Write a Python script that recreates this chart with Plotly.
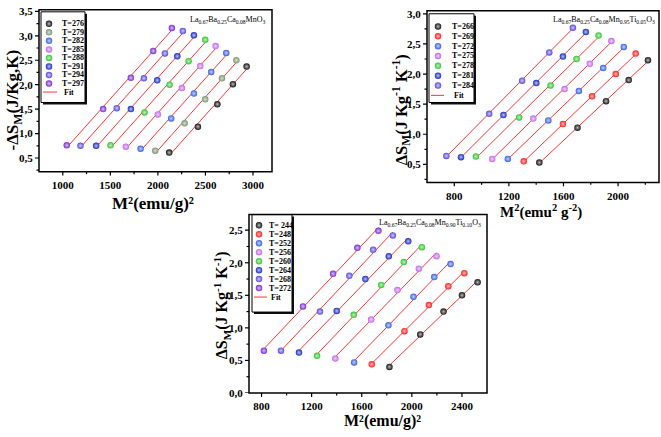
import numpy as np
import plotly.graph_objects as go

W, H = 661, 437

# ---------------- data ----------------
a_labels = ["T=276", "T=279", "T=282", "T=285", "T=288", "T=291", "T=294", "T=297"]
a_colors = ["#151515", "#7b9770", "#3a62e6", "#c36af0", "#33c833", "#1c2fc8", "#5a4ce0", "#7a2ed6"]
a_x = [
    [2119, 2421, 2625, 2789, 2933],
    [1972, 2281, 2498, 2674, 2825],
    [1818, 2140, 2379, 2561, 2719],
    [1663, 2000, 2253, 2446, 2607],
    [1502, 1860, 2123, 2323, 2498],
    [1351, 1716, 1993, 2204, 2379],
    [1186, 1568, 1853, 2074, 2263],
    [1042, 1424, 1716, 1951, 2147],
]
a_y = [
    [0.61, 1.14, 1.60, 2.01, 2.37],
    [0.65, 1.21, 1.70, 2.13, 2.50],
    [0.69, 1.31, 1.82, 2.26, 2.65],
    [0.73, 1.39, 1.93, 2.38, 2.79],
    [0.76, 1.43, 2.00, 2.48, 2.92],
    [0.75, 1.50, 2.09, 2.58, 3.01],
    [0.75, 1.52, 2.13, 2.64, 3.10],
    [0.76, 1.50, 2.14, 2.69, 3.16],
]

b_labels = ["T=266", "T=269", "T=272", "T=275", "T=278", "T=281", "T=284"]
b_colors = ["#151515", "#ff2020", "#3a62e6", "#c36af0", "#33c833", "#1c2fc8", "#5a4ce0"]
b_x = [
    [1423, 1703, 1912, 2078, 2219],
    [1309, 1596, 1810, 1983, 2129],
    [1192, 1489, 1713, 1891, 2042],
    [1078, 1379, 1608, 1793, 1951],
    [958, 1275, 1506, 1696, 1857],
    [849, 1160, 1401, 1596, 1764],
    [742, 1056, 1297, 1496, 1669],
]
b_y = [
    [0.53, 1.11, 1.55, 1.90, 2.23],
    [0.55, 1.17, 1.63, 2.00, 2.34],
    [0.59, 1.23, 1.72, 2.10, 2.45],
    [0.59, 1.26, 1.75, 2.17, 2.55],
    [0.63, 1.28, 1.81, 2.25, 2.64],
    [0.62, 1.32, 1.85, 2.29, 2.70],
    [0.64, 1.34, 1.89, 2.36, 2.77],
]

c_labels = ["T= 244", "T=248", "T=252", "T=256", "T=260", "T=264", "T=268", "T=272"]
c_colors = ["#151515", "#ff2020", "#3a62e6", "#c36af0", "#33c833", "#1c2fc8", "#5a4ce0", "#7a2ed6"]
c_x = [
    [1821, 2067, 2253, 2400, 2525],
    [1680, 1941, 2136, 2291, 2419],
    [1539, 1813, 2013, 2179, 2309],
    [1389, 1675, 1885, 2056, 2197],
    [1243, 1536, 1755, 1936, 2080],
    [1099, 1400, 1629, 1816, 1971],
    [955, 1267, 1501, 1691, 1848],
    [819, 1131, 1371, 1565, 1733],
]
c_y = [
    [0.40, 0.90, 1.25, 1.50, 1.70],
    [0.44, 0.95, 1.35, 1.64, 1.84],
    [0.47, 1.04, 1.48, 1.78, 1.98],
    [0.53, 1.13, 1.58, 1.91, 2.10],
    [0.57, 1.20, 1.66, 2.01, 2.24],
    [0.62, 1.26, 1.75, 2.10, 2.33],
    [0.65, 1.25, 1.80, 2.20, 2.42],
    [0.65, 1.33, 1.83, 2.23, 2.49],
]

a_xticks = [1000, 1500, 2000, 2500, 3000]
a_xticklabels = ["1000", "1500", "2000", "2500", "3000"]
a_xminor = [1250, 1750, 2250, 2750]
a_yticks = [0.5, 1.0, 1.5, 2.0, 2.5, 3.0, 3.5]
a_yticklabels = ["0,5", "1,0", "1,5", "2,0", "2,5", "3,0", "3,5"]
a_yminor = [0.25, 0.75, 1.25, 1.75, 2.25, 2.75, 3.25]
b_xticks = [800, 1200, 1600, 2000]
b_xticklabels = ["800", "1200", "1600", "2000"]
b_xminor = [1000, 1400, 1800, 2200]
b_yticks = [0.5, 1.0, 1.5, 2.0, 2.5, 3.0]
b_yticklabels = ["0,5", "1,0", "1,5", "2,0", "2,5", "3,0"]
b_yminor = [0.25, 0.75, 1.25, 1.75, 2.25, 2.75]
c_xticks = [800, 1200, 1600, 2000, 2400]
c_xticklabels = ["800", "1200", "1600", "2000", "2400"]
c_xminor = [1000, 1400, 1800, 2200]
c_yticks = [0.0, 0.5, 1.0, 1.5, 2.0, 2.5]
c_yticklabels = ["0,0", "0,5", "1,0", "1,5", "2,0", "2,5"]
c_yminor = [0.25, 0.75, 1.25, 1.75, 2.25]

FIT_COLOR = "#ff3535"
SERIF = "Liberation Serif"

# panel frames in pixels and their axis ranges
frames = {
    "a": dict(px=(39, 272, 5, 171), xr=[750, 3200], yr=[0.22, 3.53]),
    "b": dict(px=(427, 659, 6, 182), xr=[600, 2300], yr=[0.2, 3.05]),
    "c": dict(px=(249, 487, 215, 398), xr=[700, 2600], yr=[0.0, 2.74]),
}


def px(x):
    return x / W


def py(y):
    return 1 - y / H


def to_data(key, pxx, pyy):
    f = frames[key]
    L, R, T, B = f["px"]
    x0, x1 = f["xr"]
    y0, y1 = f["yr"]
    return x0 + (pxx - L) / (R - L) * (x1 - x0), y0 + (B - pyy) / (B - T) * (y1 - y0)


def lighten(hexc, f=0.6):
    h = hexc.lstrip("#")
    r, g, b = int(h[0:2], 16), int(h[2:4], 16), int(h[4:6], 16)
    r = int(r + (255 - r) * f)
    g = int(g + (255 - g) * f)
    b = int(b + (255 - b) * f)
    return "#%02x%02x%02x" % (r, g, b)


fig = go.Figure()

panels = [
    ("a", "x", "y", a_x, a_y, a_colors),
    ("b", "x2", "y2", b_x, b_y, b_colors),
    ("c", "x3", "y3", c_x, c_y, c_colors),
]
for key, xa, ya, xs, ys, cols in panels:
    for xv, yv, col in zip(xs, ys, cols):
        xv = np.array(xv, float)
        yv = np.array(yv, float)
        k, b0 = np.polyfit(xv, yv, 1)
        xf = np.array([xv.min(), xv.max()])
        fig.add_trace(go.Scatter(x=xf, y=k * xf + b0, mode="lines", xaxis=xa, yaxis=ya,
                                 line=dict(color=FIT_COLOR, width=1), showlegend=False,
                                 hoverinfo="skip"))
    for xv, yv, col in zip(xs, ys, cols):
        fig.add_trace(go.Scatter(x=xv, y=yv, mode="markers", xaxis=xa, yaxis=ya,
                                 marker=dict(size=6.5, color=col,
                                             gradient=dict(type="radial", color=lighten(col, 0.7)),
                                             line=dict(width=0)),
                                 showlegend=False))

shapes = []
annotations = []

# ---------------- frames and ticks drawn explicitly ----------------
tick_sets = [
    ("a", "x", "y", a_xticks, a_xminor, a_yticks, a_yminor),
    ("b", "x2", "y2", b_xticks, b_xminor, b_yticks, b_yminor),
    ("c", "x3", "y3", c_xticks, c_xminor, c_yticks, c_yminor),
]
for key, xa, ya, xmaj, xmin, ymaj, ymin in tick_sets:
    L, R, T, B = frames[key]["px"]
    shapes.append(dict(type="rect", xref="paper", yref="paper", layer="above",
                       x0=px(L), x1=px(R), y0=py(B), y1=py(T),
                       line=dict(color="black", width=1.5)))
    for vals, ln in ((xmaj, 4), (xmin, 2.5)):
        for v in vals:
            shapes.append(dict(type="line", xref=xa, yref="paper", layer="above",
                               x0=v, x1=v, y0=py(B), y1=py(B + ln),
                               line=dict(color="black", width=1.2)))
    for vals, ln in ((ymaj, 4), (ymin, 2.5)):
        for v in vals:
            shapes.append(dict(type="line", xref="paper", yref=ya, layer="above",
                               x0=px(L - ln), x1=px(L), y0=v, y1=v,
                               line=dict(color="black", width=1.2)))

# ---------------- hand-drawn legends ----------------
legend_specs = [
    ("a", "x", "y", (41, 7, 85, 100), 19.3, 8.75, 49, 60, 43, 57, a_labels, a_colors),
    ("b", "x2", "y2", (429, 9, 474, 100), 22.0, 10.1, 438, 450, 431, 444, b_labels, b_colors),
    ("c", "x3", "y3", (252, 215, 292, 315), 226.0, 9.2, 259, 267, 254, 267, c_labels, c_colors),
]
for key, xa, ya, (bx0, by0, bx1, by1), ry0, step, mx, tx, lx0, lx1, labs, cols in legend_specs:
    shapes.append(dict(type="rect", xref="paper", yref="paper", layer="below",
                       x0=px(bx0 + 2), x1=px(bx1 + 2), y0=py(by1 + 2), y1=py(by0 + 2),
                       fillcolor="#111111", line=dict(width=0)))
    shapes.append(dict(type="rect", xref="paper", yref="paper", layer="below",
                       x0=px(bx0), x1=px(bx1), y0=py(by1), y1=py(by0),
                       fillcolor="white", line=dict(color="black", width=1)))
    rows = [ry0 + i * step for i in range(len(labs) + 1)]
    for i, (lab, col) in enumerate(zip(labs, cols)):
        dx, dy = to_data(key, mx, rows[i])
        fig.add_trace(go.Scatter(x=[dx], y=[dy], mode="markers", xaxis=xa, yaxis=ya,
                                 cliponaxis=False,
                                 marker=dict(size=6.5, color=col,
                                             gradient=dict(type="radial", color=lighten(col, 0.7))),
                                 showlegend=False, hoverinfo="skip"))
        annotations.append(dict(x=px(tx), y=py(rows[i]), xref="paper", yref="paper", text=lab,
                                showarrow=False, xanchor="left", yanchor="middle",
                                font=dict(family=SERIF, size=8, color="black", weight="bold")))
    fy = rows[len(labs)]
    ax0, ay0 = to_data(key, lx0, fy)
    ax1, _ = to_data(key, lx1, fy)
    fig.add_trace(go.Scatter(x=[ax0, ax1], y=[ay0, ay0], mode="lines", xaxis=xa, yaxis=ya,
                             cliponaxis=False,
                             line=dict(color=FIT_COLOR, width=1), showlegend=False, hoverinfo="skip"))
    annotations.append(dict(x=px(tx + 2), y=py(fy), xref="paper", yref="paper", text="Fit",
                            showarrow=False, xanchor="left", yanchor="middle",
                            font=dict(family=SERIF, size=8, color="black", weight="bold")))

# ---------------- compound labels ----------------
comp = [
    ("La<sub>0.67</sub>Ba<sub>0.25</sub>Ca<sub>0.08</sub>MnO<sub>3</sub>", 268, 15),
    ("La<sub>0.67</sub>Ba<sub>0.25</sub>Ca<sub>0.08</sub>Mn<sub>0.95</sub>Ti<sub>0.05</sub>O<sub>3</sub>", 657, 15),
    ("La<sub>0.67</sub>Ba<sub>0.25</sub>Ca<sub>0.08</sub>Mn<sub>0.90</sub>Ti<sub>0.10</sub>O<sub>3</sub>", 483, 224),
]
for t, x, y in comp:
    annotations.append(dict(x=px(x), y=py(y), xref="paper", yref="paper", text=t, showarrow=False,
                            xanchor="right", yanchor="middle",
                            font=dict(family=SERIF, size=8, color="black")))

# ---------------- axis titles ----------------
titles = [
    ("M²(emu/g)²", 153, 204, 0, 17),
    ("-ΔS<sub>M</sub>(J/Kg,K)", 14, 98, -90, 17),
    ("M<sup>2</sup>(emu<sup>2</sup> g<sup>-2</sup>)", 541, 212, 0, 15),
    ("ΔS<sub>M</sub>(J Kg<sup>-1</sup> K<sup>-1</sup>)", 401, 108, -90, 16.5),
    ("M²(emu/g)²", 382, 427, 0, 16),
    ("ΔS<sub>M</sub>(J Kg<sup>-1</sup> K<sup>-1</sup>)", 222, 308, -90, 16),
]
for t, x, y, ang, fs in titles:
    annotations.append(dict(x=px(x), y=py(y), xref="paper", yref="paper", text=t, showarrow=False,
                            xanchor="center", yanchor="middle", textangle=ang,
                            font=dict(family=SERIF, size=fs, color="black", weight="bold")))

tickfont = dict(family=SERIF, size=11, color="black", weight="bold")


def axis(domain, rng, tv, tt, anchor):
    return dict(domain=domain, range=rng, tickmode="array", tickvals=tv, ticktext=tt,
                showline=False, ticks="outside", ticklen=3, tickwidth=1,
                tickcolor="rgba(0,0,0,0)",
                showgrid=False, zeroline=False, tickfont=tickfont, anchor=anchor)


def dom(key):
    L, R, T, B = frames[key]["px"]
    return [px(L), px(R)], [py(B), py(T)]


ad = dom("a")
bd = dom("b")
cd = dom("c")

fig.update_layout(
    width=W, height=H,
    margin=dict(l=0, r=0, t=0, b=0),
    paper_bgcolor="white", plot_bgcolor="rgba(0,0,0,0)",
    showlegend=False,
    xaxis=axis(ad[0], frames["a"]["xr"], a_xticks, a_xticklabels, "y"),
    yaxis=axis(ad[1], frames["a"]["yr"], a_yticks, a_yticklabels, "x"),
    xaxis2=axis(bd[0], frames["b"]["xr"], b_xticks, b_xticklabels, "y2"),
    yaxis2=axis(bd[1], frames["b"]["yr"], b_yticks, b_yticklabels, "x2"),
    xaxis3=axis(cd[0], frames["c"]["xr"], c_xticks, c_xticklabels, "y3"),
    yaxis3=axis(cd[1], frames["c"]["yr"], c_yticks, c_yticklabels, "x3"),
    shapes=shapes,
    annotations=annotations,
)

fig.write_html("out.html", config={"displayModeBar": False},
               post_script="document.body.style.margin='0';document.body.style.overflow='hidden';")
